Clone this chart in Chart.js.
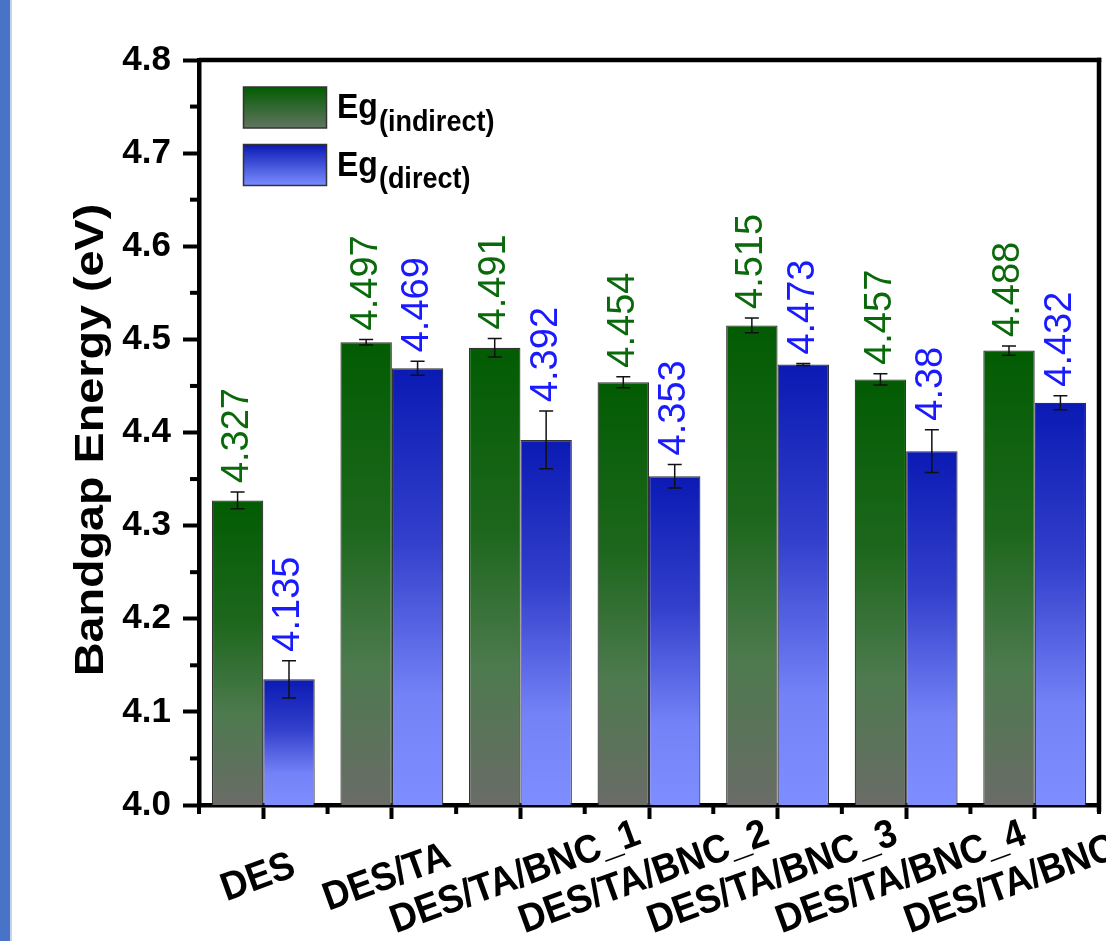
<!DOCTYPE html>
<html>
<head>
<meta charset="utf-8">
<script src="https://cdn.jsdelivr.net/npm/chart.js@4.4.1/dist/chart.umd.min.js"></script>
<style>
    html, body { margin: 0; padding: 0; background: #fff; overflow: hidden; }
    .con { position: relative; width: 1106px; height: 941px; }
    .strip { position: absolute; left: 0; top: 0; width: 10px; height: 941px; background: #4774c6; border-right: 2px solid #c6d3ec; }
</style>
</head>
<body>
<div class="con">
    <canvas id="chart" width="1106" height="941"></canvas>
    <div class="strip"></div>
</div>
<script>
const categories = ['DES', 'DES/TA', 'DES/TA/BNC_1', 'DES/TA/BNC_2', 'DES/TA/BNC_3', 'DES/TA/BNC_4', 'DES/TA/BNC_5']
const egIndirect = [4.327, 4.497, 4.491, 4.454, 4.515, 4.457, 4.488]
const egDirect = [4.135, 4.469, 4.392, 4.353, 4.473, 4.38, 4.432]
const errIndirect = [0.009, 0.003, 0.01, 0.006, 0.008, 0.006, 0.005]
const errDirect = [0.02, 0.0075, 0.031, 0.0127, 0.001, 0.023, 0.0075]
const yTickValues = [4.0, 4.1, 4.2, 4.3, 4.4, 4.5, 4.6, 4.7, 4.8]
const legendNames = ['(indirect)', '(direct)']

const FONT = '"Liberation Sans", Arial, sans-serif'
const greenStops = [[0, '#025c02'], [0.4, '#1d671d'], [0.7, '#4d7a4e'], [1, '#6a6c67']]
const blueStops = [[0, '#0a1ab3'], [0.4, '#3340cc'], [0.75, '#7382f6'], [1, '#7e8dff']]

// gradient runs from the top of each bar down to the axis
function barFill(stops){
    return function(c){
        const chart = c.chart
        const area = chart.chartArea
        if(!area || c.type !== 'data') return stops[0][1]
        const top = chart.scales.y.getPixelForValue(c.raw)
        const g = chart.ctx.createLinearGradient(0, top, 0, area.bottom)
        stops.forEach(s => g.addColorStop(s[0], s[1]))
        return g
    }
}

const errors = [errIndirect, errDirect]
const labelColors = ['#0a690a', '#1a1aff']

const extras = {
    id: 'extras',
    afterDatasetsDraw(chart){
        const ctx = chart.ctx
        const y = chart.scales.y
        //Error bars and rotated value labels
        chart.data.datasets.forEach((ds, d) => {
            const meta = chart.getDatasetMeta(d)
            meta.data.forEach((bar, i) => {
                const v = ds.data[i], e = errors[d][i]
                const hi = y.getPixelForValue(v + e), lo = y.getPixelForValue(v - e)
                ctx.save()
                ctx.strokeStyle = '#111'
                ctx.lineWidth = 1.5
                ctx.beginPath()
                ctx.moveTo(bar.x, hi); ctx.lineTo(bar.x, lo)
                ctx.moveTo(bar.x - 7, hi); ctx.lineTo(bar.x + 7, hi)
                ctx.moveTo(bar.x - 7, lo); ctx.lineTo(bar.x + 7, lo)
                ctx.stroke()
                ctx.translate(bar.x, hi - 9)
                ctx.rotate(-Math.PI / 2)
                ctx.fillStyle = labelColors[d]
                ctx.font = '38px ' + FONT
                ctx.textAlign = 'left'
                ctx.textBaseline = 'middle'
                ctx.fillText(String(v), 0, 0)
                ctx.restore()
            })
        })
    },
    afterDraw(chart){
        const ctx = chart.ctx
        const a = chart.chartArea
        const x = chart.scales.x, y = chart.scales.y
        ctx.save()
        ctx.fillStyle = '#000'
        //top and right frame
        ctx.fillRect(a.left, a.top - 2.25, a.right - a.left + 2.25, 4.5)
        ctx.fillRect(a.right - 2.25, a.top - 2.25, 4.5, a.bottom - a.top + 9)
        //minor ticks
        for(let i = 0; i <= categories.length; i++){
            const px = x.getPixelForValue(i - 0.5)
            ctx.fillRect(px - 2, a.bottom, 4, 9)
        }
        for(let i = 0; i < yTickValues.length - 1; i++){
            const py = y.getPixelForValue((yTickValues[i] + yTickValues[i + 1]) / 2)
            ctx.fillRect(a.left - 9, py - 2, 9, 4)
        }
        //category labels, rotated about their centre
        ctx.font = 'bold 36px ' + FONT
        ctx.textAlign = 'center'
        ctx.textBaseline = 'middle'
        categories.forEach((c, i) => {
            ctx.save()
            ctx.translate(x.getPixelForValue(i) - 5, a.bottom + 73)
            ctx.rotate(-20 * Math.PI / 180)
            ctx.scale(1.02, 1.1)
            ctx.fillText(c, 0, 0)
            ctx.restore()
        })
        //axis title
        ctx.save()
        ctx.translate(92, 440)
        ctx.rotate(-Math.PI / 2)
        ctx.scale(1.14, 1)
        ctx.font = 'bold 41px ' + FONT
        ctx.fillText('Bandgap Energy (eV)', 0, 0)
        ctx.restore()
        //legend
        const boxes = [[87, greenStops], [144.5, blueStops]]
        boxes.forEach((b, k) => {
            const top = b[0]
            const g = ctx.createLinearGradient(0, top, 0, top + 41)
            g.addColorStop(0, b[1][0][1])
            g.addColorStop(1, k === 0 ? '#627460' : '#7b8cff')
            ctx.fillStyle = g
            ctx.fillRect(243.5, top, 83, 41)
            ctx.strokeStyle = '#333'
            ctx.lineWidth = 1.5
            ctx.strokeRect(243.5, top, 83, 41)
            ctx.fillStyle = '#000'
            ctx.textAlign = 'left'
            ctx.textBaseline = 'alphabetic'
            const base = top + 31
            ctx.save()
            ctx.translate(337, base)
            ctx.scale(1, 1.1)
            ctx.font = 'bold 32px ' + FONT
            ctx.fillText('Eg', 0, 0)
            const w = ctx.measureText('Eg').width
            ctx.font = 'bold 27px ' + FONT
            ctx.fillText(legendNames[k], w + 1, 11.5)
            ctx.restore()
        })
        ctx.restore()
    }
}

const ctx = document.getElementById('chart').getContext('2d')
const myChart = new Chart(ctx, {
    type: 'bar',
    data: {
        labels: categories,
        datasets: [{
            label: 'Eg(indirect)',
            data: egIndirect,
            backgroundColor: barFill(greenStops),
            borderColor: '#333',
            borderWidth: 1.2,
            categoryPercentage: 0.8,
            barPercentage: 1
        }, {
            label: 'Eg(direct)',
            data: egDirect,
            backgroundColor: barFill(blueStops),
            borderColor: '#333',
            borderWidth: 1.2,
            categoryPercentage: 0.8,
            barPercentage: 1
        }]
    },
    options: {
        responsive: false,
        animation: false,
        layout: { padding: { top: 60, right: 7, left: 0, bottom: 0 } },
        plugins: { legend: { display: false }, tooltip: { enabled: false } },
        scales: {
            x: {
                afterFit: s => { s.height = 136 },
                grid: { offset: false, drawOnChartArea: false, tickLength: 14, tickWidth: 4, tickColor: '#000' },
                border: { display: true, width: 4.5, color: '#000' },
                ticks: { display: false }
            },
            y: {
                min: 4.0,
                max: 4.8,
                afterFit: s => { s.width = 199 },
                afterBuildTicks: s => { s.ticks = yTickValues.map(v => ({ value: v })) },
                grid: { drawOnChartArea: false, tickLength: 16, tickWidth: 4, tickColor: '#000' },
                border: { display: true, width: 4.5, color: '#000' },
                ticks: {
                    padding: 12,
                    color: '#000',
                    font: { family: FONT, size: 35, weight: 'bold' },
                    callback: v => v.toFixed(1)
                }
            }
        }
    },
    plugins: [extras]
})
</script>
</body>
</html>
